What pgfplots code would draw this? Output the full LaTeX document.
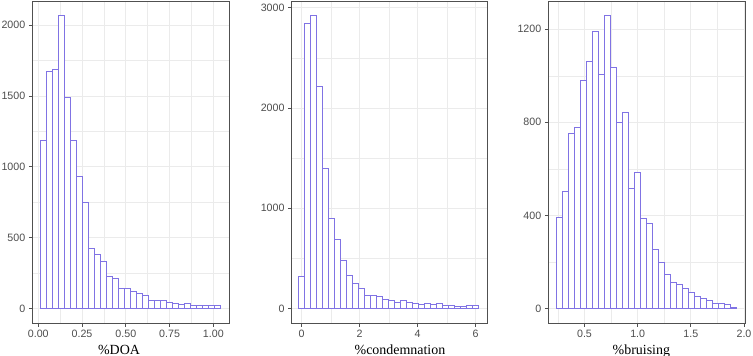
\documentclass[border=0pt]{standalone}
\usepackage{fontspec}
\setmainfont{Liberation Sans}
\newfontfamily\seriffont{Liberation Serif}
\usepackage{pgfplots}
\pgfplotsset{compat=1.18}
\definecolor{barcol}{RGB}{128,115,228}
\definecolor{framecol}{RGB}{80,80,80}
\definecolor{gridcol}{RGB}{235,235,235}
\definecolor{tickcol}{RGB}{77,77,77}
\pgfplotsset{hist/.style={
  scale only axis, anchor=south west,
  height=322.3bp,
  axis line style={draw=framecol, line width=0.9bp},
  tick align=outside, major tick length=3.5bp, minor tick length=0pt,
  major tick style={draw=framecol, line width=0.8bp},
  xtick pos=bottom, ytick pos=left,
  grid=both,
  major grid style={draw=gridcol, line width=0.8bp},
  minor grid style={draw=gridcol, line width=0.4bp},
  tick label style={font=\fontsize{10.7}{12}\selectfont, text=tickcol},
  enlargelimits=false,
}}
\begin{document}
\begin{tikzpicture}
\useasboundingbox (0,0) rectangle (753bp,356bp);
% Panel 1: %DOA
\begin{axis}[hist, at={(32.3bp,32.7bp)}, width=197bp,
  xmin=-0.034, xmax=1.091, ymin=-103, ymax=2169,
  xtick={0,0.25,0.5,0.75,1}, xticklabels={0.00,0.25,0.50,0.75,1.00},
  minor xtick={0.125,0.375,0.625,0.875},
  ytick={0,500,1000,1500,2000}, yticklabels={0,500,1000,1500,2000},
  minor ytick={250,750,1250,1750},
  xlabel={\%DOA},
  x label style={font=\seriffont\fontsize{14}{16}\selectfont, at={(axis description cs:0.44,0)}, anchor=base, yshift=-31.2bp}]
\addplot[ybar, bar width=0.034264, bar shift=0pt, draw=barcol, fill=white, line width=1bp] coordinates {
(0.02996,1185) (0.06422,1672) (0.09849,1685) (0.13275,2066) (0.16702,1490)
(0.20128,1185) (0.23554,934) (0.26981,748) (0.30407,422) (0.33834,380)
(0.37260,335) (0.40686,230) (0.44113,211) (0.47539,145) (0.50966,145)
(0.54392,122) (0.57818,106) (0.61245,94) (0.64671,56) (0.68098,61)
(0.71524,61) (0.74950,42) (0.78377,35) (0.81803,30) (0.85230,38)
(0.88656,23) (0.92082,23) (0.95509,21) (0.98935,19) (1.02362,19)};
\end{axis}
% Panel 2: %condemnation
\begin{axis}[hist, at={(291.5bp,32.7bp)}, width=195.8bp,
  xmin=-0.352, xmax=6.4, ymin=-146, ymax=3066,
  xtick={0,2,4,6}, xticklabels={0,2,4,6},
  minor xtick={1,3,5},
  ytick={0,1000,2000,3000}, yticklabels={0,1000,2000,3000},
  minor ytick={500,1500,2500},
  xlabel={\%condemnation},
  x label style={font=\seriffont\fontsize{14}{16}\selectfont, at={(axis description cs:0.554,0)}, anchor=base, yshift=-31.2bp}]
\addplot[ybar, bar width=0.206904, bar shift=0pt, draw=barcol, fill=white, line width=1bp] coordinates {
(-0.00716,319) (0.19974,2840) (0.40665,2920) (0.61355,2210) (0.82046,1400)
(1.02736,900) (1.23426,690) (1.44117,475) (1.64807,332) (1.85498,250)
(2.06188,198) (2.26878,128) (2.47569,133) (2.68259,118) (2.88950,95)
(3.09640,78) (3.30330,65) (3.51021,80) (3.71711,62) (3.92402,48)
(4.13092,45) (4.33782,52) (4.54473,42) (4.75163,48) (4.95854,28)
(5.16544,28) (5.37234,25) (5.57925,22) (5.78615,27) (5.99306,27)};
\end{axis}
% Panel 3: %bruising
\begin{axis}[hist, at={(548.3bp,32.7bp)}, width=197.2bp,
  xmin=0.1595, xmax=2.014, ymin=-63, ymax=1321,
  xtick={0.5,1,1.5,2}, xticklabels={0.5,1.0,1.5,2.0},
  minor xtick={0.25,0.75,1.25,1.75},
  ytick={0,400,800,1200}, yticklabels={0,400,800,1200},
  minor ytick={200,600,1000},
  xlabel={\%bruising},
  x label style={font=\seriffont\fontsize{14}{16}\selectfont, at={(axis description cs:0.472,0)}, anchor=base, yshift=-31.2bp}]
\addplot[ybar, bar width=0.0564228, bar shift=0pt, draw=barcol, fill=white, line width=1bp] coordinates {
(0.26482,393) (0.32124,504) (0.37767,754) (0.43409,778) (0.49051,980)
(0.54693,1061) (0.60336,1190) (0.65978,1004) (0.71620,1258) (0.77263,1036)
(0.82905,800) (0.88547,843) (0.94189,516) (0.99832,583) (1.05474,387)
(1.11116,364) (1.16759,254) (1.22401,197) (1.28043,147) (1.33685,114)
(1.39328,102) (1.44970,86) (1.50612,68) (1.56254,54) (1.61897,43)
(1.67539,33) (1.73181,23) (1.78824,21) (1.84466,17) (1.90108,5)};
\end{axis}
\end{tikzpicture}
\end{document}
